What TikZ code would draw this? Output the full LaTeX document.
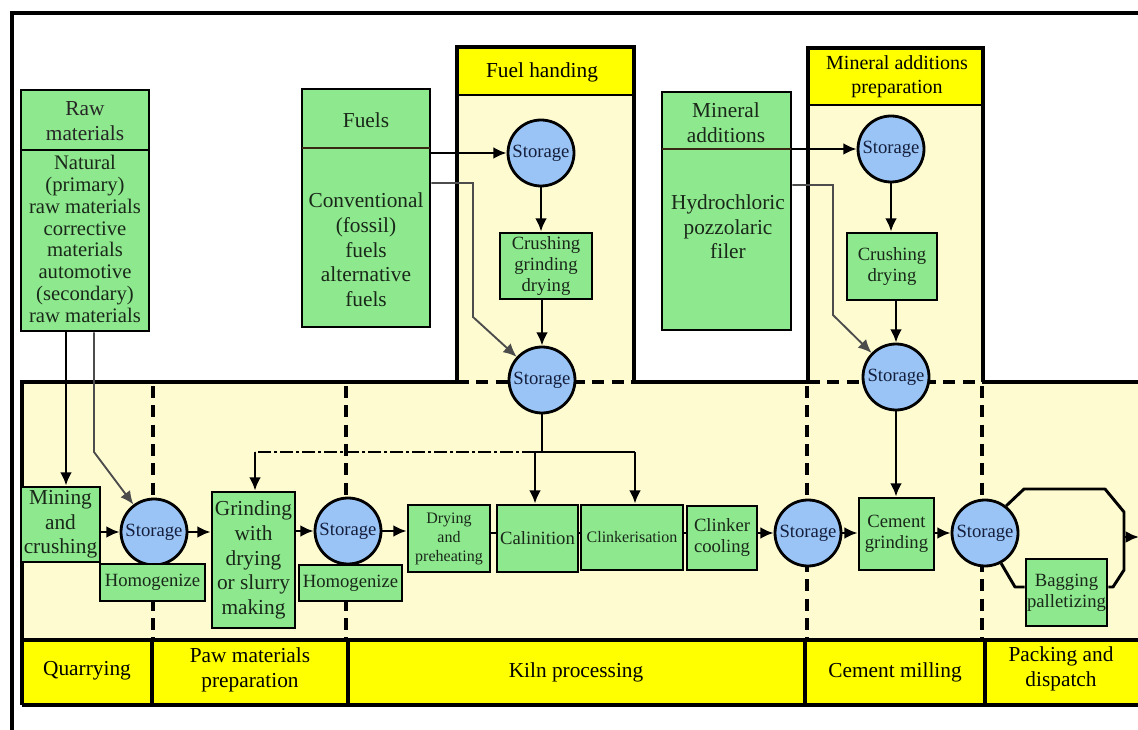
\documentclass[tikz,border=0pt]{standalone}
\usepackage{fontspec}
\setmainfont{Liberation Serif}
\usetikzlibrary{arrows.meta,calc}
\definecolor{gfill}{RGB}{142,232,142}
\definecolor{bfill}{RGB}{153,196,245}
\definecolor{lyel}{RGB}{255,251,208}
\definecolor{yel}{RGB}{255,255,0}
\definecolor{txt}{RGB}{25,40,25}
\definecolor{stxt}{RGB}{20,30,60}
\newcommand\szBig{\fontsize{16}{18.5}\selectfont}
\newcommand\szRaw{\fontsize{15.5}{16.3}\selectfont}
\newcommand\szHd{\fontsize{15}{18}\selectfont}
\newcommand\szMid{\fontsize{14}{15.8}\selectfont}
\newcommand\szSml{\fontsize{12}{14.3}\selectfont}
\begin{document}
\begin{tikzpicture}[x=0.75pt,y=-0.75pt,
  sz/.style 2 args={minimum width=#1*0.75pt, minimum height=#2*0.75pt},
  gbox/.style={draw=black, line width=2.1pt, fill=gfill, inner sep=0pt, align=center, text=txt},
  circ/.style={circle, draw=black, line width=2.1pt, fill=bfill, inner sep=0pt, minimum size=66*0.75pt, text=stxt, font=\szMid},
  lbl/.style={inner sep=0pt, align=center, text=txt},
  hdr/.style={inner sep=0pt, align=center, text=black},
  frm/.style={line width=2.8pt, draw=black},
  dsh/.style={line width=2.5pt, draw=black, dash pattern=on 9pt off 5.5pt},
  ddot/.style={line width=2.2pt, draw=black, dash pattern=on 10pt off 2pt on 2.5pt off 2pt},
  ln/.style={line width=2.2pt, draw=black},
  arr/.style={line width=2.2pt, draw=black, -{Latex[length=10pt,width=9pt]}},
  tarr/.style={line width=1.4pt, draw=black!70, -{Latex[length=10pt,width=9pt]}}
]
\useasboundingbox (0,0) rectangle (1138,730);
\fill[white] (0,0) rectangle (1138,730);

% backgrounds
\fill[lyel] (22,382) rectangle (1138,640);
\fill[yel] (22,640) rectangle (1138,705);
\fill[lyel] (457,95) rectangle (634,382);
\fill[yel] (457,47) rectangle (634,95);
\fill[lyel] (808,105) rectangle (983,382);
\fill[yel] (808,48) rectangle (983,105);

% outer frame
\draw[line width=3.2pt] (12,730) -- (12,13) -- (1138,13);

% panels borders
\draw[frm] (457,382) -- (457,47) -- (634,47) -- (634,382);
\draw[line width=1.8pt] (457,95) -- (634,95);
\draw[frm] (808,382) -- (808,48) -- (983,48) -- (983,382);
\draw[line width=1.8pt] (808,105) -- (983,105);

% lower region borders
\draw[frm] (22,705) -- (22,382) -- (457,382);
\draw[frm] (634,382) -- (808,382);
\draw[frm] (983,382) -- (1138,382);
\draw[dsh] (457,382) -- (634,382);
\draw[dsh] (808,382) -- (983,382);
\draw[frm] (22,640) -- (1138,640);
\draw[frm] (22,705) -- (1138,705);
\foreach \xx in {152,348,805,985} \draw[line width=3.4pt] (\xx,640) -- (\xx,705);

% dashed separators
\foreach \xx in {153,346,807,982} \draw[dsh] (\xx,386) -- (\xx,640);

% band labels
\node[hdr, font=\szBig] (bq) at (87,671) {Quarrying};
\node[hdr, font=\szBig] (bp) at (250,670) {Paw materials\\preparation};
\node[hdr, font=\szBig] (bk) at (576,672) {Kiln processing};
\node[hdr, font=\szBig] (bc) at (895,672) {Cement milling};
\node[hdr, font=\szBig] (bd) at (1061,669) {Packing and\\dispatch};

% panel headers
\node[hdr, font=\szBig] (fhT) at (542,72) {Fuel handing};
\node[hdr, font=\szHd] (mpT) at (897,77) {Mineral additions\\preparation};

% source boxes
\node[gbox, sz={128}{241}] (raw) at (85,210.5) {};
\draw[line width=1.6pt] (21,150) -- (149,150);
\node[lbl, font=\szBig, text=black!85] (rawT) at (85,121) {Raw\\materials};
\node[lbl, font=\szRaw] (rawB) at (85,239) {Natural\\(primary)\\raw materials\\corrective\\materials\\automotive\\(secondary)\\raw materials};

\node[gbox, sz={128}{238}] (fuels) at (366,208) {};
\draw[line width=1pt, draw=black!70!brown] (302,148) -- (430,148);
\node[lbl, font=\szBig] (fuelsT) at (366,120) {Fuels};
\node[lbl, font=\szBig] (fuelsB) at (366,250) {Conventional\\(fossil)\\fuels\\alternative\\fuels};

\node[gbox, sz={129}{238}] (mins) at (726.5,211) {};
\draw[line width=1pt, draw=black!70!brown] (662,149) -- (791,149);
\node[lbl, font=\szBig] (minsT) at (726,123) {Mineral\\additions};
\node[lbl, font=\szBig] (minsB) at (728,227) {Hydrochloric\\pozzolaric\\filer};

% coordinates for bends
\coordinate (rb0) at (66,452);
\coordinate (rb1) at (94,452);
\coordinate (fb1) at (473,183);
\coordinate (fb2) at (473,317);
\coordinate (mb1) at (833,185);
\coordinate (mb2) at (833,315);
\coordinate (jn) at (542,452);
\coordinate (jl) at (535,452);
\coordinate (jr) at (635,452);
\coordinate (jg) at (255,452);
\coordinate (ua) at (1024,489);
\coordinate (ub) at (1105,489);
\coordinate (uc) at (1124,512);
\coordinate (ud) at (1124,570);
\coordinate (ue) at (1113,587);
\coordinate (la) at (1015,587);
\coordinate (outR) at (1124,537);
\coordinate (outE) at (1139,537);

% fuel handling nodes
\node[circ] (fs1) at (541,153) {Storage};
\node[gbox, sz={92}{66}, font=\szMid] (fc) at (546,266) {Crushing\\grinding\\drying};
\node[circ] (fs2) at (542,380) {Storage};

% mineral nodes
\node[circ] (ms1) at (891,149) {Storage};
\node[gbox, sz={90}{67}, font=\szMid] (mc) at (892,266.5) {Crushing\\drying};
\node[circ] (ms2) at (896,377) {Storage};

% connectors top
\draw[arr] (fuels.east |- fs1) -- (fs1);
\draw[arr] (fs1) -- (fs1 |- fc.north);
\draw[arr] (fc.south -| fs2) -- (fs2);
\draw[tarr] (fuels.east |- fb1) -- (fb1) -- (fb2) -- (fs2);
\draw[arr] (mins.east |- ms1) -- (ms1);
\draw[arr] (ms1) -- (ms1 |- mc.north);
\draw[arr] (mc.south -| ms2) -- (ms2);
\draw[tarr] (mins.east |- mb1) -- (mb1) -- (mb2) -- (ms2);

% bottom row nodes
\node[gbox, sz={79}{75}, font=\szBig] (mining) at (60.5,524.5) {Mining\\and\\crushing};
\node[circ] (s1) at (154,532) {Storage};
\node[gbox, sz={105}{37}, font=\szMid] (hom1) at (152.5,582.5) {Homogenize};
\node[gbox, sz={83}{136}, font=\szBig] (grind) at (253.5,560) {Grinding\\with\\drying\\or slurry\\making};
\node[circ] (s2) at (348,531) {Storage};
\node[gbox, sz={103}{36}, font=\szMid] (hom2) at (350.5,583) {Homogenize};
\node[gbox, sz={82}{67}, font=\szSml] (dry) at (449,538.5) {Drying\\and\\preheating};
\node[gbox, sz={81}{67}, font=\szMid] (cal) at (537.5,538.5) {Calinition};
\node[gbox, sz={102}{65}, font=\szSml] (clk) at (632,537.5) {Clinkerisation};
\node[gbox, sz={70}{64}, font=\szMid] (cool) at (722,538) {Clinker\\cooling};
\node[circ] (s3) at (808,533) {Storage};
\node[gbox, sz={75}{72}, font=\szMid] (cem) at (896.5,534) {Cement\\grinding};
\node[circ] (s4) at (985,533) {Storage};
\node[gbox, sz={81}{67}, font=\szMid] (bag) at (1066.5,592.5) {Bagging\\palletizing};

% raw connectors
\draw[arr] (raw.south -| rb0) -- (mining.north -| rb0);
\draw[tarr] (raw.south -| rb1) -- (rb1) -- (s1);

% kiln feed
\draw[ln] (fs2) -- (jn);
\draw[ln] (jl) -- (jr);
\draw[arr] (jl) -- (jl |- cal.north);
\draw[arr] (jr) -- (jr |- clk.north);
\draw[ddot] (jl) -- (jg);
\draw[arr] (jg) -- (jg |- grind.north);

% mineral to cement
\draw[arr] (ms2) -- (ms2 |- cem.north);

% bottom row connectors
\draw[arr] (mining.east |- s1) -- (s1);
\draw[arr] (s1) -- (grind.west |- s1);
\draw[arr] (grind.east |- s2) -- (s2);
\draw[arr] (s2) -- (dry.west |- s2);
\draw[ln] (dry.east |- s3) -- (cal.west |- s3);
\draw[ln] (cal.east |- s3) -- (clk.west |- s3);
\draw[ln] (clk.east |- s3) -- (cool.west |- s3);
\draw[arr] (cool.east |- s3) -- (s3);
\draw[arr] (s3) -- (cem.west |- s3);
\draw[arr] (cem.east |- s4) -- (s4);

% packing bypass
\draw[ln, line join=round] (s4.52) -- (ua) -- (ub) -- (uc) -- (ud) -- (ue) -- (bag.east |- ue);
\draw[ln, line join=round] (s4.-62) -- (la) -- (bag.west |- la);
\draw[arr] (outR) -- (outE);
\end{tikzpicture}
\end{document}
